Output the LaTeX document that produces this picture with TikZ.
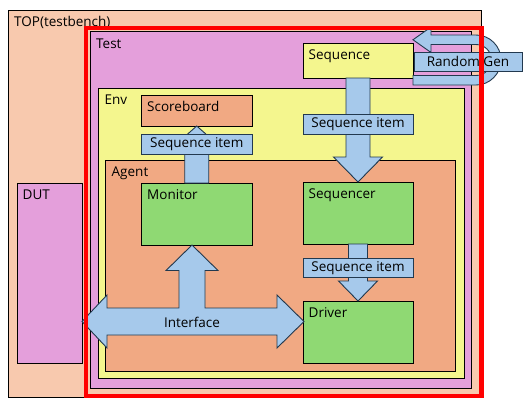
\documentclass[tikz,border=0pt]{standalone}
\usepackage{fontspec}
\setmainfont{Open Sans}
\usetikzlibrary{calc}
\definecolor{cTop}{HTML}{F8C9AE}
\definecolor{cTest}{HTML}{E49FDB}
\definecolor{cEnv}{HTML}{F4F68E}
\definecolor{cAgent}{HTML}{F1A983}
\definecolor{cGreen}{HTML}{8FD973}
\definecolor{cBlue}{HTML}{A6C9EB}
\definecolor{cEdge}{HTML}{22394F}
\newcommand\bx[6]{\node[#6, anchor=north west, minimum width={(#4-#2)*1pt}, minimum height={(#5-#3)*1pt}] (#1) at (#2,#3) {};}
\begin{document}
\begin{tikzpicture}[x=1pt,y=-1pt,
  box/.style={draw=black, line width=0.9pt, inner sep=0pt, outer sep=0pt},
  lbl/.style={inner sep=0pt, anchor=base west, font=\fontsize{13.5}{16}\selectfont},
  tag/.style={draw=cEdge, fill=cBlue, line width=0.9pt, inner sep=0pt, outer sep=0pt, font=\fontsize{13.5}{16}\selectfont},
  barrow/.style={fill=cBlue, draw=cEdge, line width=0.9pt, line join=miter}]
\useasboundingbox (0,0) rectangle (532,408);
% containers
\bx{top}{8}{10}{481}{397}{box, fill=cTop}
\bx{dut}{17}{183}{82}{363}{box, fill=cTest}
\bx{test}{90}{31.5}{471}{388.5}{box, fill=cTest}
\bx{env}{98}{88}{464}{378.5}{box, fill=cEnv}
\bx{agent}{105.5}{160}{455}{371.5}{box, fill=cAgent}
% components
\bx{seq}{303}{43}{413}{78}{box, fill=cEnv}
\bx{sb}{141}{95}{252.5}{126}{box, fill=cAgent}
\bx{mon}{141}{183}{252.5}{245}{box, fill=cGreen}
\bx{sqr}{303}{182}{413}{244}{box, fill=cGreen}
\bx{drv}{303}{301}{413}{363}{box, fill=cGreen}
% titles
\node[lbl] (ltop) at ($(top.north west)+(6,16)$) {TOP(testbench)};
\node[lbl] (ldut) at ($(dut.north west)+(5.5,16)$) {DUT};
\node[lbl] (ltest) at ($(test.north west)+(6,16.5)$) {Test};
\node[lbl] (lenv) at ($(env.north west)+(6.5,16)$) {Env};
\node[lbl] (lagent) at ($(agent.north west)+(6,16.5)$) {Agent};
\node[lbl] (lseq) at ($(seq.north west)+(5.5,16.5)$) {Sequence};
\node[lbl] (lsb) at ($(sb.north west)+(6,16.5)$) {Scoreboard};
\node[lbl] (lmon) at ($(mon.north west)+(6,16)$) {Monitor};
\node[lbl] (lsqr) at ($(sqr.north west)+(5.5,16.5)$) {Sequencer};
\node[lbl] (ldrv) at ($(drv.north west)+(5.5,16.5)$) {Driver};
% Sequence -> Sequencer
\draw[barrow] ($(seq.south)+(-12,0)$) -- ($(seq.south)+(12,0)$) -- ($(sqr.north)+(12,-25)$)
  -- ($(sqr.north)+(24.5,-25)$) -- (sqr.north) -- ($(sqr.north)+(-24.5,-25)$)
  -- ($(sqr.north)+(-12,-25)$) -- cycle;
% Monitor -> Scoreboard
\draw[barrow] ($(mon.north)+(-12,0)$) -- ($(mon.north)+(12,0)$) -- ($(sb.south)+(12,15)$)
  -- ($(sb.south)+(17,15)$) -- (sb.south) -- ($(sb.south)+(-17,15)$)
  -- ($(sb.south)+(-12,15)$) -- cycle;
% Sequencer -> Driver
\draw[barrow] ($(sqr.south)+(-9.5,0)$) -- ($(sqr.south)+(9.5,0)$) -- ($(drv.north)+(9.5,-20)$)
  -- ($(drv.north)+(19.5,-20)$) -- (drv.north) -- ($(drv.north)+(-19.5,-20)$)
  -- ($(drv.north)+(-9.5,-20)$) -- cycle;
% Interface (three-way arrow)
\draw[barrow] (82,321.5) -- (107,295) -- (107,308) -- (179,308) -- (179,270.5) -- (166,270.5)
  -- (192,245) -- (218,270.5) -- (205,270.5) -- (205,308) -- (277,308) -- (277,295)
  -- (304,321.5) -- (277,348) -- (277,335) -- (107,335) -- (107,348) -- cycle;
\node[font=\fontsize{13.5}{16}\selectfont, inner sep=0pt] (lif) at (192,322) {Interface};
% Sequence item tags
\bx{si1}{141}{134}{252.5}{154}{tag}
\node[font=\fontsize{13.5}{16}\selectfont, inner sep=0pt] at (si1.center) {Sequence item};
\bx{si2}{303}{114}{413}{134}{tag}
\node[font=\fontsize{13.5}{16}\selectfont, inner sep=0pt] at (si2.center) {Sequence item};
\bx{si3}{303}{258}{413}{277.5}{tag}
\node[font=\fontsize{13.5}{16}\selectfont, inner sep=0pt] at (si3.center) {Sequence item};
% Random Gen U-turn arrow
\draw[barrow] (413,39.75) -- (431,27) -- (431,35) -- (476,35)
  arc[start angle=90, end angle=-90, radius=25pt] -- (413,85) -- (413,75.5) -- (476,75.5)
  arc[start angle=-90, end angle=90, radius=15.5pt] -- (431,44.5) -- (431,52.5) -- cycle;
\bx{rg}{414}{52}{522}{71}{tag}
\node[font=\fontsize{13.5}{16}\selectfont, inner sep=0pt] at (rg.center) {Random Gen};
% red frame
\bx{frame}{86}{28}{481.5}{396}{draw=red, line width=4.5pt, inner sep=0pt, outer sep=0pt}
\end{tikzpicture}
\end{document}
